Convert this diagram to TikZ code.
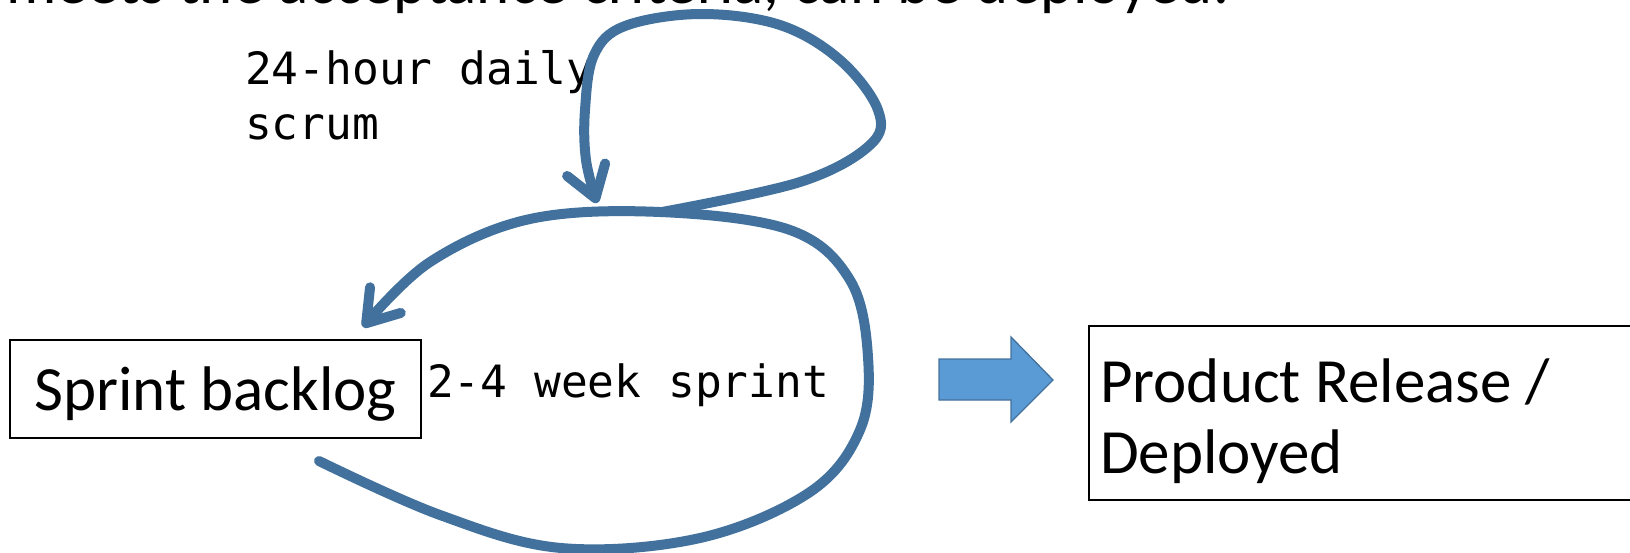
\documentclass[tikz,border=0pt]{standalone}
\usepackage{fontspec}
\setmainfont{Carlito}
\newfontfamily\monofont{DejaVu Sans Mono}
\usetikzlibrary{arrows.meta}

\definecolor{loopblue}{RGB}{65,113,156}
\definecolor{arrowfill}{RGB}{91,155,213}

\tikzset{
  flow/.style={draw=loopblue, line width=10pt, line cap=round, line join=round},
  flowtip/.style={-{Straight Barb[round,length=30pt,width=40pt]}},
  labelbox/.style={draw=black, line width=1.6pt, inner sep=0pt},
  bigtext/.style={font=\fontsize{63}{71}\selectfont, inner sep=0pt},
  monotext/.style={font=\monofont\fontsize{44.5}{56}\selectfont, inner sep=0pt},
}

\begin{document}
\begin{tikzpicture}[x=1pt,y=-1pt]
  \useasboundingbox (0,0) rectangle (1630,552);

  % heading line running off the top edge
  \begin{scope}
    \clip (0,0) rectangle (1630,552);
    \node[bigtext, anchor=base west] (heading) at (6,3)
      {meets the acceptance criteria, can be deployed.};
  \end{scope}

  % boxes
  \node[labelbox, minimum width=411pt, minimum height=98pt,
        text height=42pt, text depth=0pt, bigtext] (backlog) at (215.5,389)
        {Sprint backlog};
  \node[labelbox, anchor=north west, minimum width=560pt, minimum height=174pt]
        (release) at (1088,325) {};
  \node[bigtext, anchor=base west] (rel1) at (1100,402) {Product Release /};
  \node[bigtext, anchor=base west] (rel2) at (1100,473) {Deployed};

  % labels
  \node[monotext, anchor=base west] (daily1) at (245,84) {24-hour daily};
  \node[monotext, anchor=base west] (daily2) at (245,139) {scrum};
  \node[monotext, anchor=base west] (sprint) at (427,397) {2-4 week sprint};

  % named points of the loops
  \coordinate (loopstart) at (319,461);
  \coordinate (looptip) at (363,327);
  \coordinate (dailystart) at (662,212);
  \coordinate (dailytip) at (597,203);

  % sprint loop
  \draw[flow, flowtip] plot[smooth, tension=0.6] coordinates {
    (loopstart) (440,515) (561,548) (700,538) (810,492) (860,430)
    (868,357) (850,280) (790,230) (660,212) (530,219) (430,262) (looptip)};

  % daily loop
  \draw[flow, flowtip] plot[smooth, tension=0.6] coordinates {
    (dailystart) (800,182) (870,145) (878,110) (840,60) (780,25)
    (700,14) (625,26) (594,55) (585,110) (586,160) (dailytip)};

  % block arrow towards the release box
  \draw[draw=loopblue, fill=arrowfill, line width=1.3pt, line join=miter]
    (939,359) -- (1011,359) -- (1011,337) -- (1053,380) -- (1011,422)
    -- (1011,400) -- (939,400) -- cycle;
\end{tikzpicture}
\end{document}
